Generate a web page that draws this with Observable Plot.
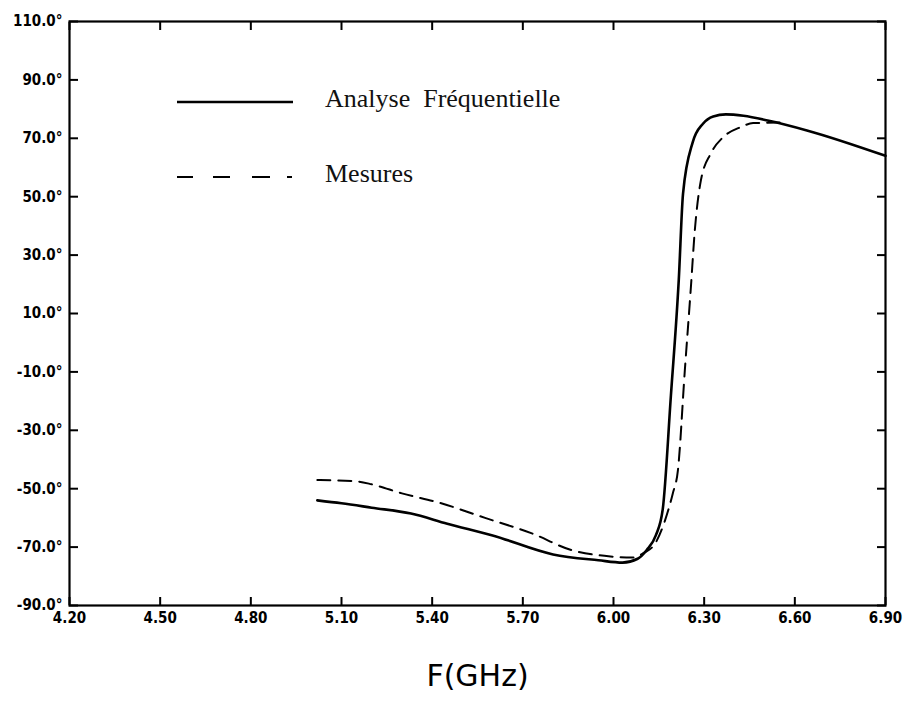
<!DOCTYPE html>
<html><head><meta charset="utf-8">
<script src="https://cdn.jsdelivr.net/npm/d3@7"></script>
<script src="https://cdn.jsdelivr.net/npm/@observablehq/plot@0.6"></script>
<style>
body{margin:0;background:#fff}
#wrap{position:relative;width:909px;height:707px}
#legend{position:absolute;left:0;top:0;pointer-events:none}
</style></head><body><div id="wrap"></div>
<script>
const xTicks = [4.2, 4.5, 4.8, 5.1, 5.4, 5.7, 6.0, 6.3, 6.6, 6.9];
const yTicks = [-90, -70, -50, -30, -10, 10, 30, 50, 70, 90, 110];
const xTitle = "F(GHz)";
const seriesNames = ["Analyse  Fréquentielle", "Mesures"];

// Analyse Fréquentielle (solid)
const solidF = [5.02, 5.10, 5.20, 5.33, 5.45, 5.60, 5.80, 5.95, 6.03, 6.08, 6.11, 6.14, 6.163, 6.19, 6.216, 6.23, 6.262, 6.296, 6.33, 6.372, 6.43, 6.51, 6.64, 6.90];
const solidP = [-54, -55, -56.5, -58.5, -62, -66, -72.5, -74.5, -75.3, -74, -71, -66, -57, -18, 21.6, 51, 68.6, 75, 77.5, 78.2, 77.7, 76.1, 72.7, 64];

// Mesures (dashed)
const dashF = [5.02, 5.15, 5.20, 5.30, 5.43, 5.575, 5.73, 5.86, 5.99, 6.06, 6.10, 6.14, 6.17, 6.196, 6.213, 6.236, 6.256, 6.269, 6.289, 6.322, 6.362, 6.418, 6.462, 6.55];
const dashP = [-47, -47.5, -48.5, -51.6, -55, -60, -65.3, -71, -73.2, -73.6, -72, -68.4, -61, -51.7, -43.8, -9.5, 18.9, 38.4, 55.5, 64.8, 70.3, 73.7, 75.2, 75.4];

const solid = solidF.map((f, i) => ({f, p: solidP[i]}));
const dashed = dashF.map((f, i) => ({f, p: dashP[i]}));

const tickFont = "'DejaVu Sans Condensed', 'Liberation Sans Narrow', 'DejaVu Sans', sans-serif";

const chart = Plot.plot({
  width: 909, height: 707,
  marginLeft: 69, marginRight: 24, marginTop: 21, marginBottom: 102,
  x: {domain: [4.2, 6.9]},
  y: {domain: [-90, 110]},
  style: {fontFamily: tickFont, fontSize: "15px", fontWeight: "bold", background: "white", color: "black"},
  marks: [
    Plot.axisY(yTicks, {anchor: "left", tickSize: -9, tickPadding: 16, strokeWidth: 2, tickFormat: d => d.toFixed(1) + "°", label: null}),
    Plot.axisY(yTicks, {anchor: "right", tickSize: -9, strokeWidth: 2, tickFormat: () => "", label: null}),
    Plot.axisX(xTicks, {anchor: "bottom", tickSize: -8, tickPadding: 15, strokeWidth: 2, tickFormat: d => d.toFixed(2), label: null}),
    Plot.axisX(xTicks, {anchor: "top", tickSize: -8, strokeWidth: 2, tickFormat: () => "", label: null}),
    Plot.frame({strokeWidth: 2.2}),
    Plot.line(solid, {x: "f", y: "p", curve: "monotone-x", strokeWidth: 2.6}),
    Plot.line(dashed, {x: "f", y: "p", curve: "monotone-x", strokeWidth: 2, strokeDasharray: "13,8"}),
    Plot.text([xTitle], {text: d => d, frameAnchor: "bottom", dy: 80, fontSize: 30, fontWeight: "normal", fontFamily: "'DejaVu Sans', sans-serif"})
  ]
});
const wrap = document.getElementById("wrap");
wrap.appendChild(chart);

// Legend overlay
const ns = "http://www.w3.org/2000/svg";
const leg = document.createElementNS(ns, "svg");
leg.setAttribute("id", "legend");
leg.setAttribute("width", 909); leg.setAttribute("height", 707);
const legendRows = [
  {name: seriesNames[0], y: 102, dash: null, w: 2.6},
  {name: seriesNames[1], y: 177, dash: "16,20,17,22,18,17,5,100", w: 2}
];
legendRows.forEach(r => {
  const l = document.createElementNS(ns, "line");
  l.setAttribute("x1", 177); l.setAttribute("x2", 293);
  l.setAttribute("y1", r.y); l.setAttribute("y2", r.y);
  l.setAttribute("stroke", "black"); l.setAttribute("stroke-width", r.w);
  if (r.dash) l.setAttribute("stroke-dasharray", r.dash);
  leg.appendChild(l);
  const t = document.createElementNS(ns, "text");
  t.setAttribute("x", 325); t.setAttribute("y", r.y + 5);
  t.setAttribute("font-family", "'Liberation Serif', 'DejaVu Serif', serif");
  t.setAttribute("font-size", 26);
  t.setAttribute("fill", "#111");
  t.setAttribute("xml:space", "preserve");
  t.style.whiteSpace = "pre";
  t.textContent = r.name;
  leg.appendChild(t);
});
wrap.appendChild(leg);
</script>
</body></html>
